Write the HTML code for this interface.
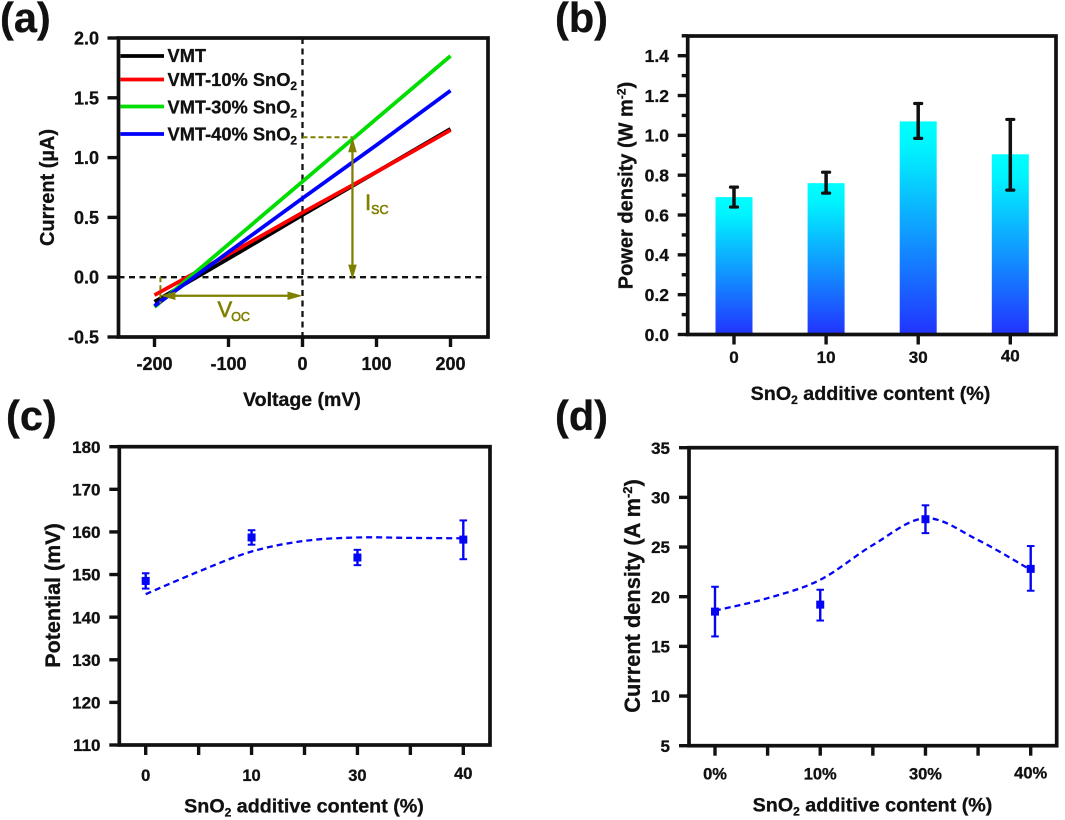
<!DOCTYPE html>
<html lang="en">
<head>
<meta charset="utf-8">
<title>SnO2 additive charts</title>
<style>
html,body{margin:0;padding:0;background:#fff;}
svg{display:block;}
text{font-family:"Liberation Sans",Arial,sans-serif;font-weight:bold;fill:#111;stroke:#111;stroke-width:.3px;}
</style>
</head>
<body>
<svg id="fig" xmlns="http://www.w3.org/2000/svg" width="1065" height="820" viewBox="0 0 1065 820">
  <defs>
    <linearGradient id="barGrad" x1="0" y1="0" x2="0" y2="1">
      <stop offset="0" stop-color="#00ffff"/>
      <stop offset="0.12" stop-color="#00f4ff"/>
      <stop offset="1" stop-color="#2233ff"/>
    </linearGradient>
  </defs>
  <rect width="1065" height="820" fill="#fff"/>

  <text x="0" y="32" font-size="41.5">(a)</text>
  <text x="555" y="32" font-size="41.5">(b)</text>
  <text x="6" y="430" font-size="41.5">(c)</text>
  <text x="555" y="430" font-size="41.5">(d)</text>

  <text x="302" y="406" font-size="19.5" text-anchor="middle">Voltage (mV)</text>
  <text transform="translate(54,187.5) rotate(-90)" font-size="20" text-anchor="middle">Current (µA)</text>

  <text x="870.5" y="400" font-size="19.7" text-anchor="middle">SnO<tspan font-size="12" dy="4">2</tspan><tspan dy="-4"> additive content (%)</tspan></text>
  <text transform="translate(632.5,185.5) rotate(-90)" font-size="20" text-anchor="middle">Power density (W m<tspan font-size="12" dy="-7">-2</tspan><tspan dy="7">)</tspan></text>

  <text x="304" y="812.5" font-size="19.7" text-anchor="middle">SnO<tspan font-size="12" dy="4">2</tspan><tspan dy="-4"> additive content (%)</tspan></text>
  <text transform="translate(60,595.5) rotate(-90)" font-size="21.5" text-anchor="middle">Potential (mV)</text>

  <text x="872.5" y="811.5" font-size="19.7" text-anchor="middle">SnO<tspan font-size="12" dy="4">2</tspan><tspan dy="-4"> additive content (%)</tspan></text>
  <text transform="translate(640,596) rotate(-90)" font-size="21.8" text-anchor="middle">Current density (A m<tspan font-size="13" dy="-8">-2</tspan><tspan dy="8">)</tspan></text>

  <g id="panel-a"></g>
  <g id="panel-b"></g>
  <g id="panel-c"></g>
  <g id="panel-d"></g>
</svg>

<script>
// ---- Panel (a) data ----
const aVoltages = [-200, -100, 0, 100, 200];
const aVmt = [-0.205, 0.155, 0.52, 0.88, 1.24];
const aVmt10 = [-0.15, 0.19, 0.54, 0.88, 1.23];
const aVmt30 = [-0.25, 0.275, 0.80, 1.325, 1.85];
const aVmt40 = [-0.24, 0.21, 0.66, 1.105, 1.56];
const aXTicks = [-200, -100, 0, 100, 200];
const aYTicks = [-0.5, 0, 0.5, 1, 1.5, 2];
const aIscVoltage = 67.5;
const aIscCurrent = 1.17;
const aVocVoltage = -192;
const aVocCurrent = -0.155;

// ---- Panel (b) data ----
const bCategories = ['0', '10', '30', '40'];
const bValues = [0.69, 0.76, 1.07, 0.905];
const bErrLow = [0.64, 0.71, 0.985, 0.725];
const bErrHigh = [0.74, 0.815, 1.16, 1.08];
const bYTicks = [0, 0.2, 0.4, 0.6, 0.8, 1, 1.2, 1.4];
const bYMinorTicks = [0.1, 0.3, 0.5, 0.7, 0.9, 1.1, 1.3, 1.5];

// ---- Panel (c) data ----
const cCategories = ['0', '10', '30', '40'];
const cValues = [148.5, 158.7, 154, 158.2];
const cErrLow = [146.7, 157, 152.2, 153.6];
const cErrHigh = [150.3, 160.4, 155.8, 162.7];
const cFitPos = [0, 0.5, 1, 1.5, 2, 2.5, 3];
const cFitVal = [145.4, 150.7, 155.4, 157.9, 158.7, 158.6, 158.5];
const cYTicks = [110, 120, 130, 140, 150, 160, 170, 180];
const cHalfTicks = [0.5, 1.5, 2.5];

// ---- Panel (d) data ----
const dCategories = ['0%', '10%', '30%', '40%'];
const dValues = [18.5, 19.2, 27.8, 22.8];
const dErrLow = [16, 17.6, 26.4, 20.6];
const dErrHigh = [21, 20.7, 29.2, 25.1];
const dFitPos = [0, 0.5, 1, 1.5, 2, 2.5, 3];
const dFitVal = [18.6, 19.85, 21.7, 25.2, 27.9, 25.7, 22.7];
const dYTicks = [5, 10, 15, 20, 25, 30, 35];
const dHalfTicks = [0.5, 1.5, 2.5];

const NS = 'http://www.w3.org/2000/svg';
function el(tag, attrs, parent, text) {
  const n = document.createElementNS(NS, tag);
  for (const k in attrs) n.setAttribute(k, attrs[k]);
  if (text !== undefined) n.textContent = text;
  parent.appendChild(n);
  return n;
}
function linear(d0, d1, r0, r1) {
  return v => r0 + (v - d0) * (r1 - r0) / (d1 - d0);
}
function smoothPath(pts) {
  let d = 'M' + pts[0][0] + ' ' + pts[0][1];
  for (let i = 0; i < pts.length - 1; i++) {
    const p0 = pts[Math.max(i - 1, 0)], p1 = pts[i], p2 = pts[i + 1], p3 = pts[Math.min(i + 2, pts.length - 1)];
    d += ' C' + (p1[0] + (p2[0] - p0[0]) / 6) + ' ' + (p1[1] + (p2[1] - p0[1]) / 6) + ' ' +
         (p2[0] - (p3[0] - p1[0]) / 6) + ' ' + (p2[1] - (p3[1] - p1[1]) / 6) + ' ' + p2[0] + ' ' + p2[1];
  }
  return d;
}
function frame(g, l, t, r, b) {
  const f = el('rect', {x: l, y: t, width: r - l, height: b - t, fill: 'none', stroke: '#111', 'stroke-width': 3.7}, g);
  
  
}
function yTick(g, y, x, len, label, labelX, size) {
  const t = el('line', {x1: x, x2: x - len, y1: y, y2: y, stroke: '#111', 'stroke-width': 3.4}, g);
  
  
  if (label !== null) {
    const s = el('text', {x: labelX, y: y + size * 0.36, 'font-size': size, 'text-anchor': 'end'}, g, label);
    
    
  }
}
function xTick(g, x, y, len, label, labelY, size) {
  const t = el('line', {x1: x, x2: x, y1: y, y2: y + len, stroke: '#111', 'stroke-width': 3.4}, g);
  
  
  if (label !== null) {
    const s = el('text', {x: x, y: labelY, 'font-size': size, 'text-anchor': 'middle'}, g, label);
    
    
  }
}

// ---------- Panel (a) ----------
(function () {
  const g = document.getElementById('panel-a');
  const L = 118.5, R = 488, T = 38, B = 337;
  const x = linear(-250, 250, 117.5, 487.5);
  const y = linear(-0.5, 2, B, T);
  const olive = '#808000';

  const hz = el('line', {x1: L, x2: R, y1: y(0), y2: y(0), stroke: '#111', 'stroke-width': 2.3, 'stroke-dasharray': '6 4.5'}, g);
  
  
  const vt = el('line', {x1: x(0), x2: x(0), y1: T, y2: B, stroke: '#111', 'stroke-width': 2.3, 'stroke-dasharray': '6 4.5'}, g);
  
  

  const seriesVals = [aVmt, aVmt10, aVmt30, aVmt40];
  const seriesCols = ['#000000', '#ff0000', '#00dd00', '#0000ff'];
  seriesVals.forEach((vals, i) => {
    const pts = aVoltages.map((v, k) => x(v) + ',' + y(vals[k])).join(' ');
    const p = el('polyline', {points: pts, fill: 'none', stroke: seriesCols[i], 'stroke-width': 3.8}, g);
    
    
  });

  // annotations
  const dashA = el('line', {x1: x(0), x2: x(aIscVoltage), y1: y(aIscCurrent), y2: y(aIscCurrent), stroke: olive, 'stroke-width': 2, 'stroke-dasharray': '5 3'}, g);
  
  
  const ax = x(aIscVoltage), ayTop = y(aIscCurrent), ayBot = y(-0.02);
  const isc = el('line', {x1: ax, x2: ax, y1: ayTop + 6, y2: ayBot - 6, stroke: olive, 'stroke-width': 2.3}, g);
  
  
  const ih1 = el('polygon', {points: [ax, ayTop, ax - 4.3, ayTop + 15, ax + 4.3, ayTop + 15].join(' '), fill: olive}, g);
  
  
  const ih2 = el('polygon', {points: [ax, ayBot, ax - 4.3, ayBot - 15, ax + 4.3, ayBot - 15].join(' '), fill: olive}, g);
  
  

  const vy = y(aVocCurrent), vl = x(aVocVoltage), vr = x(0);
  const dashV = el('line', {x1: vl, x2: vl, y1: y(0), y2: y(-0.22), stroke: olive, 'stroke-width': 2, 'stroke-dasharray': '5 3'}, g);
  
  
  const voc = el('line', {x1: vl + 6, x2: vr - 6, y1: vy, y2: vy, stroke: olive, 'stroke-width': 2.3}, g);
  
  
  const vh1 = el('polygon', {points: [vl, vy, vl + 15, vy - 4.3, vl + 15, vy + 4.3].join(' '), fill: olive}, g);
  
  
  const vh2 = el('polygon', {points: [vr, vy, vr - 15, vy - 4.3, vr - 15, vy + 4.3].join(' '), fill: olive}, g);
  
  

  const iscT = el('text', {x: 365, y: 210, 'font-size': 22, style: 'fill:' + olive + ';font-weight:normal;stroke:' + olive + ';stroke-width:.6px'}, g);
  
  
  iscT.textContent = 'I';
  const iscS = el('tspan', {'font-size': 12.5, dy: 4}, iscT, 'SC');
  
  
  const vocT = el('text', {x: 217.5, y: 317, 'font-size': 22, style: 'fill:' + olive + ';font-weight:normal;stroke:' + olive + ';stroke-width:.6px'}, g);
  
  
  vocT.textContent = 'V';
  const vocS = el('tspan', {'font-size': 12.5, dy: 4, dx: -1}, vocT, 'OC');
  
  

  frame(g, L, T, R, B);
  aYTicks.forEach(v => yTick(g, y(v), L, 11, v.toFixed(1), 99, 18));
  aXTicks.forEach(v => xTick(g, x(v), B, 10, String(v), 370, 18));

  // legend
  const names = ['VMT', 'VMT-10% SnO', 'VMT-30% SnO', 'VMT-40% SnO'];
  const lineY = [56, 79.5, 106.5, 134];
  const textY = [62, 86, 113.5, 140.5];
  names.forEach((nm, i) => {
    const l = el('line', {x1: 120.5, x2: 164, y1: lineY[i], y2: lineY[i], stroke: seriesCols[i], 'stroke-width': 3.8}, g);
    
    
    const t = el('text', {x: 167.5, y: textY[i], 'font-size': 18.3}, g, nm);
    
    
    if (i > 0) {
      const s = el('tspan', {'font-size': 12, dy: 4}, t, '2');
      
      
    }
  });
})();

// ---------- Panel (b) ----------
(function () {
  const g = document.getElementById('panel-b');
  const L = 687.7, R = 1056, T = 36, B = 334.5;
  const x = linear(0, 3, 734, 1010.3);
  const y = linear(0, 1.4, B, 55.7);
  const bw = 37;
  bValues.forEach((v, i) => {
    const r = el('rect', {x: x(i) - bw / 2, y: y(v), width: bw, height: B - y(v), fill: 'url(#barGrad)'}, g);
    
    
  });
  bValues.forEach((v, i) => {
    const e = el('line', {x1: x(i), x2: x(i), y1: y(bErrLow[i]), y2: y(bErrHigh[i]), stroke: '#111', 'stroke-width': 3.5}, g);
    
    
    [bErrLow[i], bErrHigh[i]].forEach(c => {
      const cap = el('line', {x1: x(i) - 3.5, x2: x(i) + 3.5, y1: y(c), y2: y(c), stroke: '#111', 'stroke-width': 3.2, 'stroke-linecap': 'round'}, g);
      
      
    });
  });
  frame(g, L, T, R, B);
  bYTicks.forEach(v => yTick(g, y(v), L, 10, v.toFixed(1), 669, 17.5));
  bYMinorTicks.forEach(v => yTick(g, y(v), L, 6, null));
  bCategories.forEach((c, i) => xTick(g, x(i), B, 10, c, i === 3 ? 361.5 : 363, 17));
})();

// ---------- Panels (c) and (d) ----------
function scatterPanel(id, L, T, R, B, y0, y1, x0, x3, yTicks, halfTicks, cats, vals, lo, hi, fitPos, fitVal, labelX, size, catY, lastCatY, catSize) {
  const g = document.getElementById(id);
  const x = linear(0, 3, x0, x3);
  const y = linear(y0, y1, B, T);
  const blue = '#0505f5';
  const fit = el('path', {d: smoothPath(fitPos.map((p, i) => [x(p), y(fitVal[i])])), fill: 'none', stroke: blue, 'stroke-width': 2.3, 'stroke-dasharray': '6 4'}, g);
  
  
  vals.forEach((v, i) => {
    const e = el('line', {x1: x(i), x2: x(i), y1: y(lo[i]), y2: y(hi[i]), stroke: blue, 'stroke-width': 2.4}, g);
    
    
    [lo[i], hi[i]].forEach(c => {
      const cap = el('line', {x1: x(i) - 3.8, x2: x(i) + 3.8, y1: y(c), y2: y(c), stroke: blue, 'stroke-width': 2}, g);
      
      
    });
    const m = el('rect', {x: x(i) - 4, y: y(v) - 4, width: 8, height: 8, fill: blue}, g);
    
    
  });
  frame(g, L, T, R, B);
  yTicks.forEach(v => yTick(g, y(v), L, 10, String(v), labelX, size));
  cats.forEach((c, i) => xTick(g, x(i), B, 10, c, i === 3 ? lastCatY : catY, catSize));
  halfTicks.forEach(p => xTick(g, x(p), B, 10, null));
}
scatterPanel('panel-c', 119.3, 446.7, 490, 745, 110, 180, 145.7, 463.3, cYTicks, cHalfTicks, cCategories, cValues, cErrLow, cErrHigh, cFitPos, cFitVal, 100.5, 17, 781, 779, 16.5);
scatterPanel('panel-d', 689, 447.7, 1056.7, 745.7, 5, 35, 715, 1030.7, dYTicks, dHalfTicks, dCategories, dValues, dErrLow, dErrHigh, dFitPos, dFitVal, 670, 17, 779.5, 778.5, 16.5);
</script>
</body>
</html>
